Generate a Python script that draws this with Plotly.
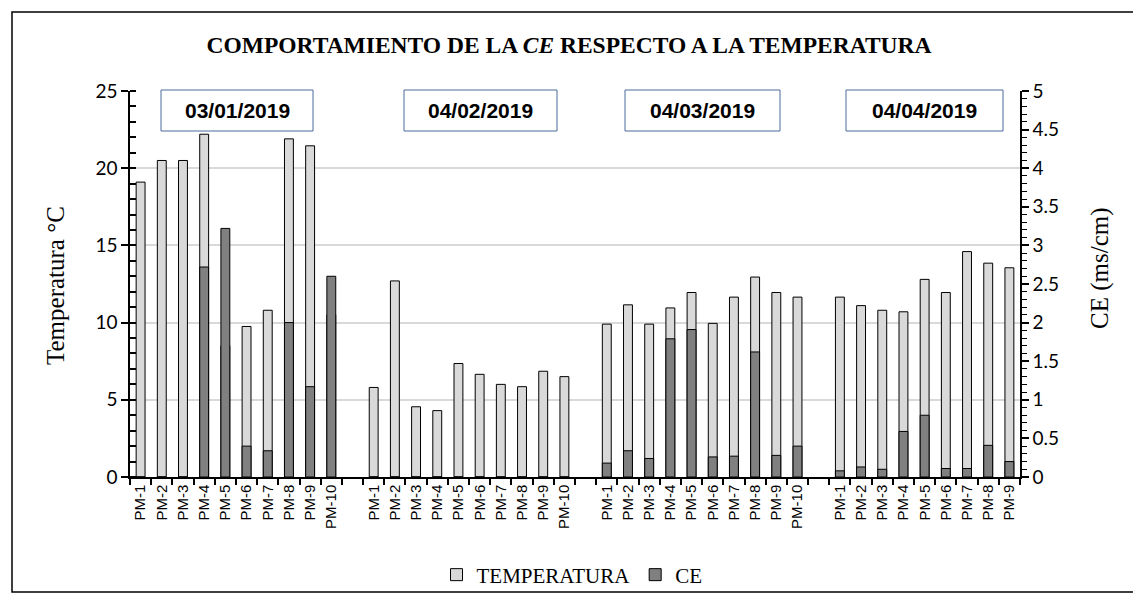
import plotly.graph_objects as go

# ---------------- data ----------------
dates = ["03/01/2019", "04/02/2019", "04/03/2019", "04/04/2019"]
labels_g1 = ["PM-1", "PM-2", "PM-3", "PM-4", "PM-5", "PM-6", "PM-7", "PM-8", "PM-9", "PM-10"]
labels_g2 = ["PM-1", "PM-2", "PM-3", "PM-4", "PM-5", "PM-6", "PM-7", "PM-8", "PM-9", "PM-10"]
labels_g3 = ["PM-1", "PM-2", "PM-3", "PM-4", "PM-5", "PM-6", "PM-7", "PM-8", "PM-9", "PM-10"]
labels_g4 = ["PM-1", "PM-2", "PM-3", "PM-4", "PM-5", "PM-6", "PM-7", "PM-8", "PM-9"]

temp_g1 = [19.1, 20.5, 20.5, 22.2, 8.5, 9.75, 10.8, 21.9, 21.45, 10.5]
temp_g2 = [5.8, 12.7, 4.55, 4.3, 7.35, 6.65, 6.0, 5.85, 6.85, 6.5]
temp_g3 = [9.9, 11.15, 9.9, 10.95, 11.95, 9.95, 11.65, 12.95, 11.95, 11.65]
temp_g4 = [11.65, 11.1, 10.8, 10.7, 12.8, 11.95, 14.6, 13.85, 13.55]

ce_g1 = [0.0, 0.0, 0.0, 2.72, 3.22, 0.40, 0.34, 2.0, 1.17, 2.60]
ce_g2 = [0.0, 0.0, 0.0, 0.0, 0.0, 0.0, 0.0, 0.0, 0.0, 0.0]
ce_g3 = [0.18, 0.34, 0.24, 1.79, 1.91, 0.26, 0.27, 1.62, 0.28, 0.40]
ce_g4 = [0.08, 0.13, 0.10, 0.59, 0.80, 0.11, 0.11, 0.41, 0.20]

groups_labels = [labels_g1, labels_g2, labels_g3, labels_g4]
groups_temp = [temp_g1, temp_g2, temp_g3, temp_g4]
groups_ce = [ce_g1, ce_g2, ce_g3, ce_g4]

# build category slots (one empty slot between groups)
x_pos, tick_text, temp_all, ce_all = [], [], [], []
slot = 0
for gi, (labs, tv, cv) in enumerate(zip(groups_labels, groups_temp, groups_ce)):
    for lab, t, c in zip(labs, tv, cv):
        x_pos.append(slot)
        tick_text.append(lab)
        temp_all.append(t)
        ce_all.append(c)
        slot += 1
    if gi < len(groups_labels) - 1:
        slot += 1
n_slots = slot

LIGHT = "#d9d9d9"
DARK = "#808080"
SERIF = "Liberation Serif, Times New Roman, serif"
SANS = "Liberation Sans, Arial, sans-serif"
NUMF = "Lato, Calibri, sans-serif"

fig = go.Figure()
fig.add_trace(go.Bar(
    x=x_pos, y=temp_all, name="TEMPERATURA", width=0.42,
    marker=dict(color=LIGHT, line=dict(color="#000000", width=1)),
    yaxis="y",
))
fig.add_trace(go.Bar(
    x=x_pos, y=ce_all, name="CE", width=0.42,
    marker=dict(color=DARK, line=dict(color="#000000", width=1)),
    yaxis="y2",
))

# page offset (html body margin) and geometry in page pixels
OFF = 8
FW, FH = 1141 - OFF, 604 - OFF
L, R, T, B = 130, 1020, 91, 477
W, H = R - L, B - T


def px(x):
    return (x - L) / W


def py(y):
    return (B - y) / H


shapes = [
    dict(type="rect", xref="paper", yref="paper",
         x0=px(12), x1=px(1137), y0=py(592), y1=py(12),
         line=dict(color="#000000", width=1.5), fillcolor="rgba(0,0,0,0)", layer="below"),
]
annotations = []
box_px = [(161, 313), (404, 557), (625, 780), (846, 1003)]
for d, (bx0, bx1) in zip(dates, box_px):
    shapes.append(dict(type="rect", xref="paper", yref="paper",
                       x0=px(bx0), x1=px(bx1), y0=py(131), y1=py(90),
                       line=dict(color="#4a6a9a", width=1), fillcolor="#ffffff", layer="above"))
    annotations.append(dict(text="<b>%s</b>" % d, xref="paper", yref="paper",
                            x=px((bx0 + bx1) / 2), y=py(111), showarrow=False,
                            font=dict(family=SANS, size=21, color="#000000"),
                            xanchor="center", yanchor="middle"))

annotations.append(dict(text="Temperatura °C", xref="paper", yref="paper",
                        x=px(55), y=py(286), textangle=-90, showarrow=False,
                        font=dict(family=SERIF, size=25, color="#000000"),
                        xanchor="center", yanchor="middle"))
annotations.append(dict(text="CE (ms/cm)", xref="paper", yref="paper",
                        x=px(1100), y=py(268), textangle=-90, showarrow=False,
                        font=dict(family=SERIF, size=25, color="#000000"),
                        xanchor="center", yanchor="middle"))

fig.update_layout(
    width=FW, height=FH,
    margin=dict(l=L - OFF, r=FW - (R - OFF), t=T - OFF, b=FH - (B - OFF), autoexpand=False),
    paper_bgcolor="#ffffff", plot_bgcolor="#ffffff",
    barmode="overlay",
    title=dict(text="<b>COMPORTAMIENTO DE LA <i>CE</i> RESPECTO A LA TEMPERATURA</b>",
               x=px(569), xref="paper", xanchor="center",
               y=1 - (45 - OFF) / FH, yref="container", yanchor="middle",
               font=dict(family=SERIF, size=23.5, color="#000000")),
    xaxis=dict(
        range=[-0.5, n_slots - 0.5],
        tickmode="array", tickvals=x_pos, ticktext=tick_text,
        tickangle=-90, ticks="",
        tickfont=dict(family=SANS, size=15, color="#000000"),
        showline=True, linecolor="#000000", linewidth=1.5,
        showgrid=False, zeroline=False,
        minor=dict(tickmode="linear", tick0=-0.5, dtick=1, ticks="outside",
                   ticklen=6, tickcolor="#000000", tickwidth=1.5, showgrid=False),
    ),
    yaxis=dict(
        range=[0, 25], tickmode="linear", tick0=0, dtick=5,
        ticks="outside", ticklen=7, tickcolor="#000000", tickwidth=1.5,
        tickfont=dict(family=NUMF, size=19, color="#000000"),
        showline=True, linecolor="#000000", linewidth=1.5,
        showgrid=True, gridcolor="#d9d9d9", gridwidth=1.5, zeroline=False,
        minor=dict(tickmode="linear", tick0=0, dtick=1, ticks="inside",
                   ticklen=6, tickcolor="#000000", tickwidth=1.5, showgrid=False),
    ),
    yaxis2=dict(
        range=[0, 5], overlaying="y", side="right",
        tickmode="linear", tick0=0, dtick=0.5,
        ticks="outside", ticklen=7, tickcolor="#000000", tickwidth=1.5,
        tickfont=dict(family=NUMF, size=19, color="#000000"),
        showline=True, linecolor="#000000", linewidth=1.5,
        showgrid=False, zeroline=False,
        minor=dict(tickmode="linear", tick0=0, dtick=0.1, ticks="outside",
                   ticklen=5, tickcolor="#000000", tickwidth=1.2, showgrid=False),
    ),
    legend=dict(orientation="h", x=px(572), xanchor="center", y=py(575), yanchor="middle",
                font=dict(family=SERIF, size=21, color="#000000"),
                bgcolor="rgba(0,0,0,0)", itemwidth=30),
    shapes=shapes,
    annotations=annotations,
    showlegend=True,
)

fig.write_html("out.html")
